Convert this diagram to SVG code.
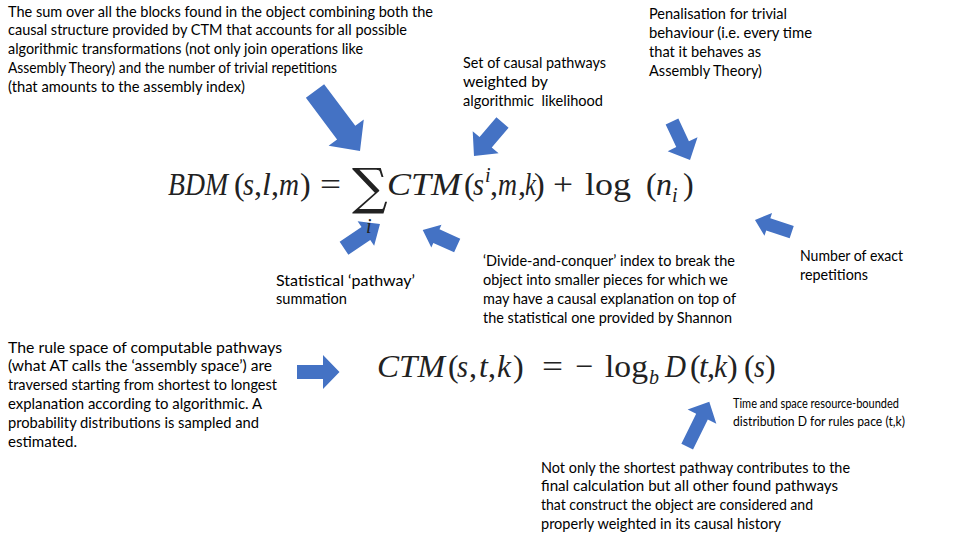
<svg xmlns="http://www.w3.org/2000/svg" width="954" height="537" viewBox="0 0 954 537">
<style>
.t{font-family:Lato,"Open Sans","Liberation Sans",sans-serif;font-size:15px;fill:#000}
.ts{font-family:Lato,"Open Sans","Liberation Sans",sans-serif;font-size:13px;fill:#000}
.m{font-family:"Liberation Serif","DejaVu Serif",serif;font-size:32px;font-style:italic;fill:#222}
.u{font-style:normal}
.sm{font-size:20px}
.sum{font-family:"DejaVu Serif","Liberation Serif",serif;font-size:50px;font-style:normal;fill:#222}
.arr{fill:#4472C4}
</style>
<rect width="954" height="537" fill="#fff"/>
<g id="connectors">
<polygon class="arr" transform="translate(315,91) rotate(53.13)" points="0,-11.4 52,-11.4 52,-22 75,0 52,22 52,11.4 0,11.4"/>
<polygon class="arr" transform="translate(502.5,122.5) rotate(130.4)" points="0,-8 26,-8 26,-17 44,0 26,17 26,8 0,8"/>
<polygon class="arr" transform="translate(672,121.5) rotate(64.9)" points="0,-7 25,-7 25,-16.5 42.5,0 25,16.5 25,7 0,7"/>
<polygon class="arr" transform="translate(344,248.3) rotate(-34)" points="0,-7.8 26.4,-7.8 26.4,-14.8 43.4,0 26.4,14.8 26.4,7.8 0,7.8"/>
<polygon class="arr" transform="translate(457.2,245.5) rotate(-155.8)" points="0,-7.5 22.8,-7.5 22.8,-12.4 37.8,0 22.8,12.4 22.8,7.5 0,7.5"/>
<polygon class="arr" transform="translate(791.7,232.2) rotate(-161.6)" points="0,-6.5 24.7,-6.5 24.7,-12 38.7,0 24.7,12 24.7,6.5 0,6.5"/>
<polygon class="arr" points="297,365 323,365 323,355 339.5,372 323,389 323,379 297,379"/>
<polygon class="arr" transform="translate(687.2,446.7) rotate(-63.8)" points="0,-6.5 33.5,-6.5 33.5,-16 50,0 33.5,16 33.5,6.5 0,6.5"/>
</g>
<g id="eq-bdm">
<text class="m" y="195"><tspan x="168" textLength="60" lengthAdjust="spacingAndGlyphs">BDM</tspan><tspan class="u" x="234">(</tspan><tspan x="243" textLength="11" lengthAdjust="spacingAndGlyphs">s</tspan><tspan class="u" x="254">,</tspan><tspan x="262">l</tspan><tspan class="u" x="271">,</tspan><tspan x="279" textLength="20" lengthAdjust="spacingAndGlyphs">m</tspan><tspan class="u" x="300">)</tspan><tspan class="u" x="320" textLength="21" lengthAdjust="spacingAndGlyphs">=</tspan><tspan x="387" textLength="74" lengthAdjust="spacingAndGlyphs">CTM</tspan><tspan class="u" x="464">(</tspan><tspan x="473" textLength="11" lengthAdjust="spacingAndGlyphs">s</tspan><tspan class="u" x="490">,</tspan><tspan x="498" textLength="19" lengthAdjust="spacingAndGlyphs">m</tspan><tspan class="u" x="518">,</tspan><tspan x="525" textLength="11" lengthAdjust="spacingAndGlyphs">k</tspan><tspan class="u" x="534">)</tspan><tspan class="u" x="553" textLength="20" lengthAdjust="spacingAndGlyphs">+</tspan><tspan class="u" x="585" textLength="46" lengthAdjust="spacingAndGlyphs">log</tspan><tspan class="u" x="646">(</tspan><tspan x="656" textLength="16" lengthAdjust="spacingAndGlyphs">n</tspan><tspan class="u" x="683">)</tspan></text>
<text class="m sm" x="485" y="182">i</text>
<text class="m sm" x="672" y="202">i</text>
<text class="sum" x="352" y="204">∑</text>
<text class="m sm" x="366" y="233">i</text>
</g>
<g id="eq-ctm">
<text class="m" y="377"><tspan x="377" textLength="68" lengthAdjust="spacingAndGlyphs">CTM</tspan><tspan class="u" x="448">(</tspan><tspan x="457" textLength="11" lengthAdjust="spacingAndGlyphs">s</tspan><tspan class="u" x="469">,</tspan><tspan x="479">t</tspan><tspan class="u" x="488">,</tspan><tspan x="497" textLength="14" lengthAdjust="spacingAndGlyphs">k</tspan><tspan class="u" x="513">)</tspan><tspan class="u" x="542" textLength="21" lengthAdjust="spacingAndGlyphs">=</tspan><tspan class="u" x="575" textLength="18" lengthAdjust="spacingAndGlyphs">−</tspan><tspan class="u" x="605" textLength="43" lengthAdjust="spacingAndGlyphs">log</tspan><tspan x="665" textLength="21" lengthAdjust="spacingAndGlyphs">D</tspan><tspan class="u" x="690">(</tspan><tspan x="699">t</tspan><tspan class="u" x="707">,</tspan><tspan x="714" textLength="13" lengthAdjust="spacingAndGlyphs">k</tspan><tspan class="u" x="727">)</tspan><tspan class="u" x="744">(</tspan><tspan x="754" textLength="11" lengthAdjust="spacingAndGlyphs">s</tspan><tspan class="u" x="765">)</tspan></text>
<text class="m sm" x="649" y="384" font-size="19">b</text>
</g>
<g id="note-sum">
<text class="t" x="8" y="16.5" textLength="425" lengthAdjust="spacingAndGlyphs">The sum over all the blocks found in the object combining both the</text>
<text class="t" x="8" y="35.3" textLength="399" lengthAdjust="spacingAndGlyphs">causal structure provided by CTM that accounts for all possible</text>
<text class="t" x="8" y="54.2" textLength="355" lengthAdjust="spacingAndGlyphs">algorithmic transformations (not only join operations like</text>
<text class="t" x="8" y="73" textLength="329" lengthAdjust="spacingAndGlyphs">Assembly Theory) and the number of trivial repetitions</text>
<text class="t" x="8" y="91.8" textLength="237" lengthAdjust="spacingAndGlyphs">(that amounts to the assembly index)</text>
</g>
<g id="note-set">
<text class="t" x="463" y="68" textLength="143" lengthAdjust="spacingAndGlyphs">Set of causal pathways</text>
<text class="t" x="463" y="87" textLength="85" lengthAdjust="spacingAndGlyphs">weighted by</text>
<text class="t" x="463" y="106" textLength="140" lengthAdjust="spacingAndGlyphs" style="white-space:pre">algorithmic  likelihood</text>
</g>
<g id="note-penal">
<text class="t" x="649" y="19" textLength="138" lengthAdjust="spacingAndGlyphs">Penalisation for trivial</text>
<text class="t" x="649" y="38" textLength="163" lengthAdjust="spacingAndGlyphs">behaviour (i.e. every time</text>
<text class="t" x="649" y="57" textLength="112" lengthAdjust="spacingAndGlyphs">that it behaves as</text>
<text class="t" x="649" y="76" textLength="113" lengthAdjust="spacingAndGlyphs">Assembly Theory)</text>
</g>
<g id="note-stat">
<text class="t" x="276" y="285.5" textLength="139" lengthAdjust="spacingAndGlyphs">Statistical ‘pathway’</text>
<text class="t" x="276" y="304" textLength="71" lengthAdjust="spacingAndGlyphs">summation</text>
</g>
<g id="note-divide">
<text class="t" x="483" y="266" textLength="252" lengthAdjust="spacingAndGlyphs">‘Divide-and-conquer’ index to break the</text>
<text class="t" x="483" y="285" textLength="245" lengthAdjust="spacingAndGlyphs">object into smaller pieces for which we</text>
<text class="t" x="483" y="304" textLength="253" lengthAdjust="spacingAndGlyphs">may have a causal explanation on top of</text>
<text class="t" x="483" y="322.7" textLength="249" lengthAdjust="spacingAndGlyphs">the statistical one provided by Shannon</text>
</g>
<g id="note-reps">
<text class="t" x="800" y="261" textLength="103" lengthAdjust="spacingAndGlyphs">Number of exact</text>
<text class="t" x="800" y="280" textLength="68" lengthAdjust="spacingAndGlyphs">repetitions</text>
</g>
<g id="note-rule">
<text class="t" x="8" y="352.5" textLength="274" lengthAdjust="spacingAndGlyphs">The rule space of computable pathways</text>
<text class="t" x="8" y="371.3" textLength="264" lengthAdjust="spacingAndGlyphs">(what AT calls the ‘assembly space’) are</text>
<text class="t" x="8" y="390.1" textLength="269" lengthAdjust="spacingAndGlyphs">traversed starting from shortest to longest</text>
<text class="t" x="8" y="408.9" textLength="254" lengthAdjust="spacingAndGlyphs">explanation according to algorithmic. A</text>
<text class="t" x="8" y="427.7" textLength="251" lengthAdjust="spacingAndGlyphs">probability distributions is sampled and</text>
<text class="t" x="8" y="446.5" textLength="69" lengthAdjust="spacingAndGlyphs">estimated.</text>
</g>
<g id="note-time">
<text class="ts" x="733" y="408" textLength="166" lengthAdjust="spacingAndGlyphs">Time and space resource-bounded</text>
<text class="ts" x="733" y="426" textLength="172" lengthAdjust="spacingAndGlyphs">distribution D for rules pace (t,k)</text>
</g>
<g id="note-shortest">
<text class="t" x="541" y="472.5" textLength="309" lengthAdjust="spacingAndGlyphs">Not only the shortest pathway contributes to the</text>
<text class="t" x="541" y="491.3" textLength="297" lengthAdjust="spacingAndGlyphs">final calculation but all other found pathways</text>
<text class="t" x="541" y="510" textLength="272" lengthAdjust="spacingAndGlyphs">that construct the object are considered and</text>
<text class="t" x="541" y="529" textLength="240" lengthAdjust="spacingAndGlyphs">properly weighted in its causal history</text>
</g>
</svg>
